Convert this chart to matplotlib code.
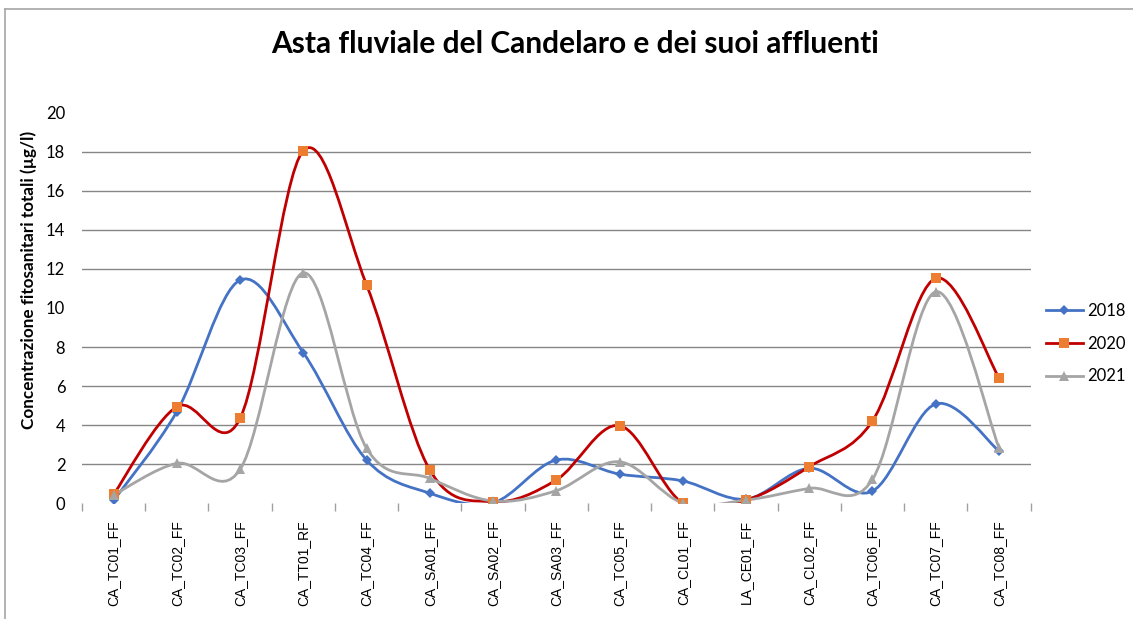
import numpy as np
import matplotlib
matplotlib.use("Agg")
import matplotlib.pyplot as plt
from matplotlib.path import Path
from matplotlib.patches import PathPatch
from matplotlib.lines import Line2D

stazioni = ["CA_TC01_FF", "CA_TC02_FF", "CA_TC03_FF", "CA_TT01_RF", "CA_TC04_FF",
            "CA_SA01_FF", "CA_SA02_FF", "CA_SA03_FF", "CA_TC05_FF", "CA_CL01_FF",
            "LA_CE01_FF", "CA_CL02_FF", "CA_TC06_FF", "CA_TC07_FF", "CA_TC08_FF"]
v2018 = [0.15, 4.7, 11.43, 7.71, 2.22, 0.52, 0.03, 2.22, 1.5, 1.15, 0.22, 1.8, 0.63, 5.09, 2.68]
v2020 = [0.46, 4.95, 4.35, 18.05, 11.18, 1.71, 0.09, 1.2, 3.98, 0.02, 0.17, 1.88, 4.22, 11.52, 6.43]
v2021 = [0.43, 2.05, 1.74, 11.8, 2.82, 1.28, 0.12, 0.65, 2.13, 0.02, 0.17, 0.77, 1.23, 10.83, 2.85]
anni = ["2018", "2020", "2021"]
y_ticks = [0, 2, 4, 6, 8, 10, 12, 14, 16, 18, 20]
griglia = [2, 4, 6, 8, 12, 14, 16, 18]

titolo = "Asta fluviale del Candelaro e dei suoi affluenti"
ylabel = "Concentrazione fitosanitari totali (µg/l)"


def curva_excel(x, y):
    # spline "smussata" stile Excel: bezier con punti di controllo catmull-rom
    p = np.column_stack([x, y])
    n = len(p)
    verts = [tuple(p[0])]
    codes = [Path.MOVETO]
    for i in range(n - 1):
        p0 = p[i - 1] if i > 0 else p[i]
        p3 = p[i + 2] if i + 2 < n else p[i + 1]
        c1 = p[i] + (p[i + 1] - p0) / 6
        c2 = p[i + 1] - (p3 - p[i]) / 6
        verts += [tuple(c1), tuple(c2), tuple(p[i + 1])]
        codes += [Path.CURVE4] * 3
    return Path(verts, codes)


fig = plt.figure(figsize=(11.33, 6.19), dpi=100)
W, H = 1133, 619
ax = fig.add_axes([82 / W, 1 - 503.4 / H, (1030.6 - 82) / W, (503.4 - 112.6) / H])

x = np.arange(len(stazioni))
serie = [
    (v2018, "#4472C4", "#4472C4", "D", 5),
    (v2020, "#C00000", "#ED7D31", "s", 7),
    (v2021, "#A5A5A5", "#A5A5A5", "^", 7),
]
handles = []
for (vals, col_linea, col_marker, mk, ms), anno in zip(serie, anni):
    ax.add_patch(PathPatch(curva_excel(x, vals), facecolor="none", edgecolor=col_linea,
                           lw=2.0, zorder=3, capstyle="round", joinstyle="round"))
    ax.plot(x, vals, linestyle="none", marker=mk, ms=ms, color=col_marker,
            markeredgewidth=0, zorder=4)
    handles.append(Line2D([0], [0], color=col_linea, lw=2.0, marker=mk, ms=ms,
                          markerfacecolor=col_marker, markeredgewidth=0, label=anno))

for g in griglia:
    ax.axhline(g, color="#868686", lw=1.0, zorder=1)

ax.set_xlim(-0.5, len(stazioni) - 0.5)
ax.set_ylim(0, 20)
for s in ax.spines.values():
    s.set_visible(False)

ax.set_yticks(y_ticks)
ax.set_yticklabels([str(t) for t in y_ticks], fontsize=12, family="Lato")
ax.tick_params(axis="y", length=0, pad=12)

ax.set_xticks(x)
ax.set_xticklabels(stazioni, rotation=90, fontsize=10, family="Liberation Sans")
ax.set_xticks(np.arange(len(stazioni) + 1) - 0.5, minor=True)
ax.tick_params(axis="x", which="major", length=0, pad=12)
ax.tick_params(axis="x", which="minor", length=6, color="#A0A0A0", width=1)

fig.text(29 / W, 1 - 280 / H, ylabel, rotation=90, ha="center", va="center",
         fontsize=12.3, fontweight="bold", family="Lato")

fig.text(575 / W, 1 - 44 / H, titolo, ha="center", va="center", fontsize=21.5,
         fontweight="bold", family="Lato")

leg = fig.legend(handles=handles, loc="upper left", bbox_to_anchor=(1046 / W, 1 - 303 / H),
                 frameon=False, handlelength=2.2, labelspacing=1.0, borderpad=0,
                 borderaxespad=0, handletextpad=0.3, prop={"family": "Lato", "size": 12})

# bordo del grafico (solo lato sinistro e superiore visibili)
fig.add_artist(Line2D([5 / W, 5 / W], [0, 1 - 9 / H], color="#A6A6A6", lw=1.2,
                      transform=fig.transFigure))
fig.add_artist(Line2D([5 / W, 1], [1 - 9 / H, 1 - 9 / H], color="#A6A6A6", lw=1.2,
                      transform=fig.transFigure))

fig.savefig("out.png", dpi=100, facecolor="white")
